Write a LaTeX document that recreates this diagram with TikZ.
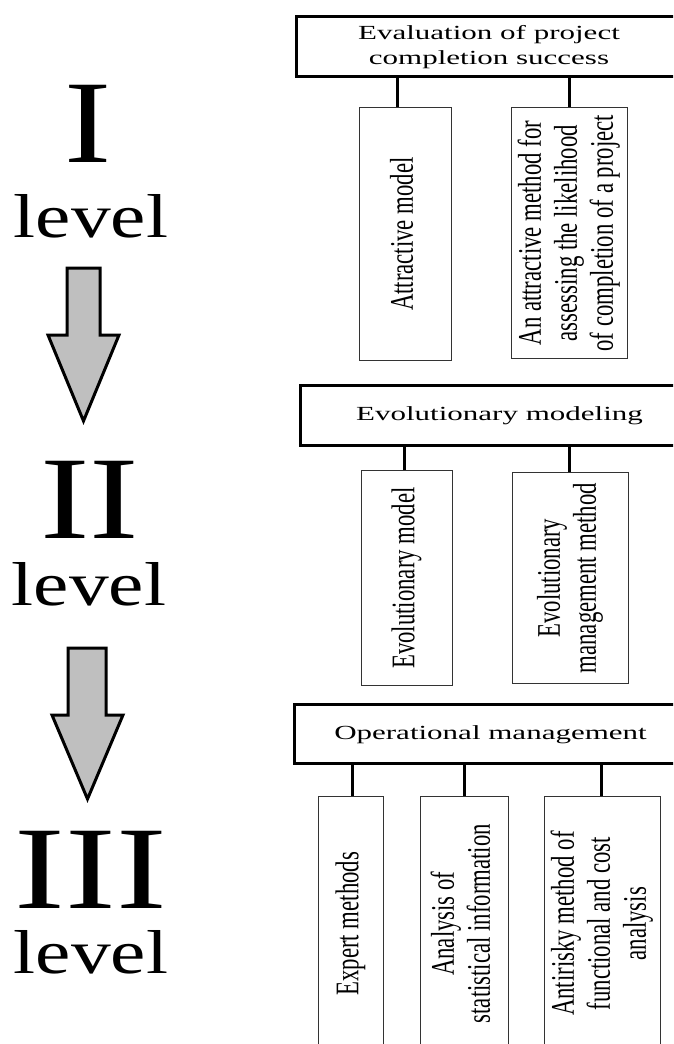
\documentclass[tikz,border=0pt]{standalone}
\usepackage{fontspec}
\setmainfont{Liberation Serif}
\usepackage{graphicx}
\newcommand{\hsc}[2]{\scalebox{#1}[1]{#2}}
\newcommand{\vtext}[1]{\rotatebox{90}{\scalebox{0.69}[1]{\fontsize{33}{36}\selectfont\begin{tabular}{@{}c@{}}#1\end{tabular}}}}
\newcommand{\htext}[1]{\scalebox{1.55}[1]{\fontsize{20}{25}\selectfont\begin{tabular}{@{}c@{}}#1\end{tabular}}}
\begin{document}
\begin{tikzpicture}[x=1pt,y=-1pt,
  hdr/.style={draw=black, line width=3pt, inner sep=0pt, anchor=north west},
  sub/.style={draw=black!80, line width=1.3pt, inner sep=0pt, anchor=north west},
  link/.style={line width=3pt},
  bigarrow/.style={draw=black, line width=3pt, fill=black!25, line join=miter},
  roman/.style={inner sep=0pt, anchor=base, font=\fontsize{118}{118}\selectfont},
  lvl/.style={inner sep=0pt, anchor=base, font=\fontsize{62}{62}\selectfont}]
\useasboundingbox (0,0) rectangle (673,1044);
\clip (0,0) rectangle (673,1044);
\fill[white] (0,0) rectangle (673,1044);

% left level labels
\node[roman] (r1) at (88,162) {\hsc{1.2}{I}};
\node[lvl] (l1) at (91,237) {\hsc{1.28}{level}};
\node[roman] (r2) at (90,538) {\hsc{1.26}{II}};
\node[lvl] (l2) at (89,605) {\hsc{1.28}{level}};
\node[roman] (r3) at (91,908) {\hsc{1.29}{III}};
\node[lvl] (l3) at (91,973) {\hsc{1.28}{level}};

% block arrows
\draw[bigarrow] (67,268) -- (100,268) -- (100,335) -- (119,335) -- (83.5,421) -- (48,335) -- (67,335) -- cycle;
\draw[bigarrow] (68,648) -- (106,648) -- (106,715) -- (123,715) -- (87.5,799) -- (52,715) -- (68,715) -- cycle;

% headers
\node[hdr, minimum width=385pt, minimum height=60pt] (h1) at (295,15) {\htext{Evaluation of project\\completion success}};
\node[hdr, minimum width=398pt, minimum height=60pt] (h2) at (299,384) {\htext{Evolutionary modeling}};
\node[hdr, minimum width=392pt, minimum height=59pt] (h3) at (293,703) {\htext{Operational management}};

% sub boxes
\node[sub, minimum width=92pt, minimum height=253pt] (b11) at (359,107) {\vtext{Attractive model}};
\node[sub, minimum width=116pt, minimum height=251pt] (b12) at (511,107) {\vtext{An attractive method for\\assessing the likelihood\\of completion of a project}};
\node[sub, minimum width=91pt, minimum height=215pt] (b21) at (361,470) {\vtext{Evolutionary model}};
\node[sub, minimum width=116pt, minimum height=211pt] (b22) at (512,472) {\vtext{Evolutionary\\management method}};
\node[sub, minimum width=65pt, minimum height=254pt] (b31) at (318,796) {\vtext{Expert methods}};
\node[sub, minimum width=88pt, minimum height=254pt] (b32) at (420,796) {\vtext{Analysis of\\statistical information}};
\node[sub, minimum width=116pt, minimum height=254pt] (b33) at (544,796) {\vtext{Antirisky method of\\functional and cost\\analysis}};

% connectors
\coordinate (k11) at (397,0);
\coordinate (k12) at (569,0);
\coordinate (k21) at (404,0);
\coordinate (k22) at (569,0);
\coordinate (k31) at (352,0);
\coordinate (k32) at (464,0);
\coordinate (k33) at (601,0);
\draw[link] (h1.south -| k11) -- (b11.north -| k11);
\draw[link] (h1.south -| k12) -- (b12.north -| k12);
\draw[link] (h2.south -| k21) -- (b21.north -| k21);
\draw[link] (h2.south -| k22) -- (b22.north -| k22);
\draw[link] (h3.south -| k31) -- (b31.north -| k31);
\draw[link] (h3.south -| k32) -- (b32.north -| k32);
\draw[link] (h3.south -| k33) -- (b33.north -| k33);
\end{tikzpicture}
\end{document}
